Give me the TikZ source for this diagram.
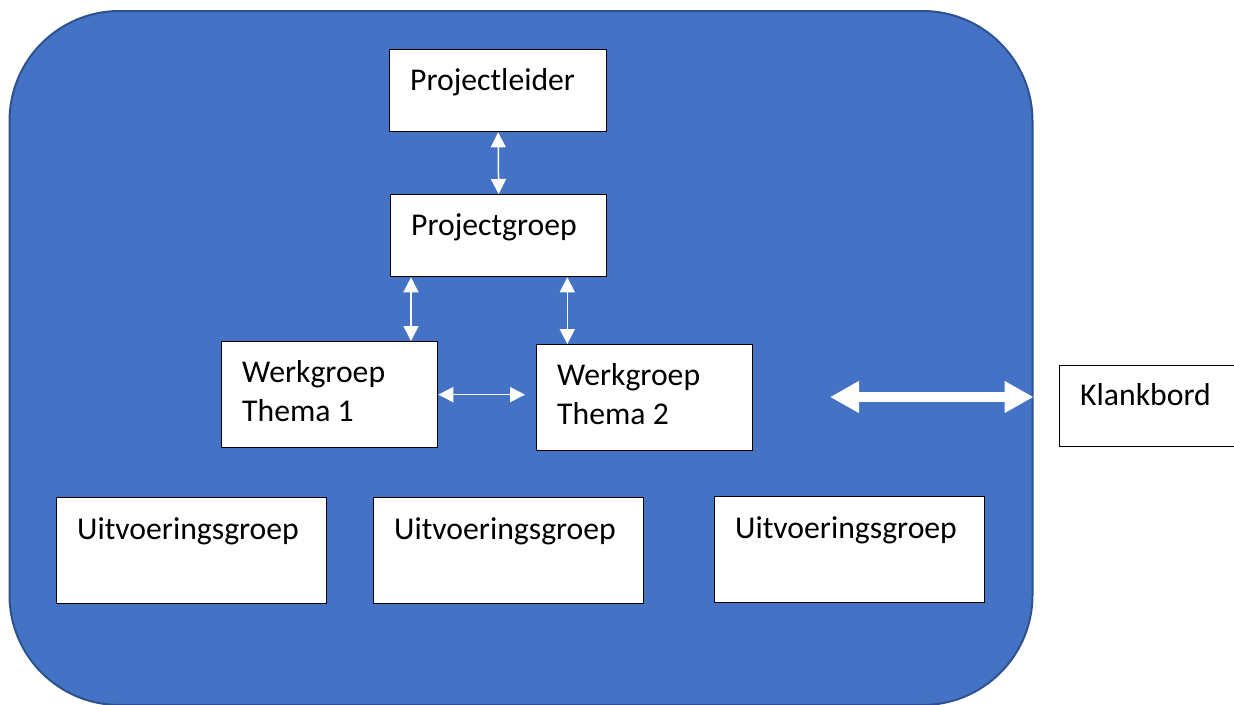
\documentclass[tikz,border=0pt]{standalone}
\usepackage{fontspec}
\setmainfont{Carlito}
\usetikzlibrary{arrows.meta,calc}

\definecolor{azul}{HTML}{4472C4}
\definecolor{azulborde}{HTML}{2F528F}

\begin{document}
\begin{tikzpicture}[x=1pt,y=-1pt,
  fondo/.style={draw=azulborde, line width=2pt, fill=azul, rounded corners=110pt,
    minimum width=1023pt, minimum height=694pt, anchor=north west, inner sep=0pt},
  caja/.style={draw=black, line width=1.3pt, fill=white, anchor=north west, inner sep=0pt},
  texto/.style={anchor=base west, inner sep=0pt, align=left,
    font=\fontsize{31.7}{39}\selectfont},
  flecha/.style={draw=white, line width=1.5pt, {Triangle[width=15pt,length=15pt]}-{Triangle[width=15pt,length=15pt]}},
  flechagrande/.style={draw=white, line width=10pt, {Triangle[width=30pt,length=29pt]}-{Triangle[width=30pt,length=29pt]}}]

% Marco de la imagen
\useasboundingbox (0,0) rectangle (1234,704);

% Fondo azul redondeado
\node[fondo] (org) at (8.5,10) {};

% Cajas
\node[caja, minimum width=217pt, minimum height=82pt] (pl) at (389,49) {};
\node[caja, minimum width=216pt, minimum height=82pt] (pg) at (390,194) {};
\node[caja, minimum width=216pt, minimum height=106pt] (wt1) at (221,341) {};
\node[caja, minimum width=216pt, minimum height=106pt] (wt2) at (536,344) {};
\node[caja, minimum width=270pt, minimum height=106pt] (ug1) at (56,497) {};
\node[caja, minimum width=270pt, minimum height=106pt] (ug2) at (373,497) {};
\node[caja, minimum width=270pt, minimum height=106pt] (ug3) at (714,496) {};
\node[caja, minimum width=180pt, minimum height=81pt] (kb) at (1059,365) {};

% Rótulos: la línea base queda 41 por debajo del borde superior
% (en los de dos líneas cuenta la última, 39 más abajo)
\node[texto] (plt) at ($(pl.north west)+(21,41)$) {Projectleider};
\node[texto] (pgt) at ($(pg.north west)+(21,41)$) {Projectgroep};
\node[texto] (wt1t) at ($(wt1.north west)+(21,80)$) {Werkgroep\\Thema 1};
\node[texto] (wt2t) at ($(wt2.north west)+(21,80)$) {Werkgroep\\Thema 2};
\node[texto] (ug1t) at ($(ug1.north west)+(21,42)$) {Uitvoeringsgroep};
\node[texto] (ug2t) at ($(ug2.north west)+(21,42)$) {Uitvoeringsgroep};
\node[texto] (ug3t) at ($(ug3.north west)+(21,42)$) {Uitvoeringsgroep};
\node[texto] (kbt) at ($(kb.north west)+(21,40)$) {Klankbord};

% Flechas finas
\draw[flecha] (pl.south) -- (pg.north);
\coordinate (a1) at ($(pg.south west)+(21,0)$);
\coordinate (a2) at ($(pg.south east)+(-40,0)$);
\draw[flecha] (a1) -- (a1 |- wt1.north);
\draw[flecha] (a2) -- (a2 |- wt2.north);
\coordinate (a3) at ($(wt2.west)+(-11,0)$);
\draw[flecha] (wt1.east) -- (a3 |- wt1.east);

% Flecha gruesa hacia el klankbord
\coordinate (b1) at (830,397);
\draw[flechagrande] (b1) -- (b1 -| org.east);
\end{tikzpicture}
\end{document}
